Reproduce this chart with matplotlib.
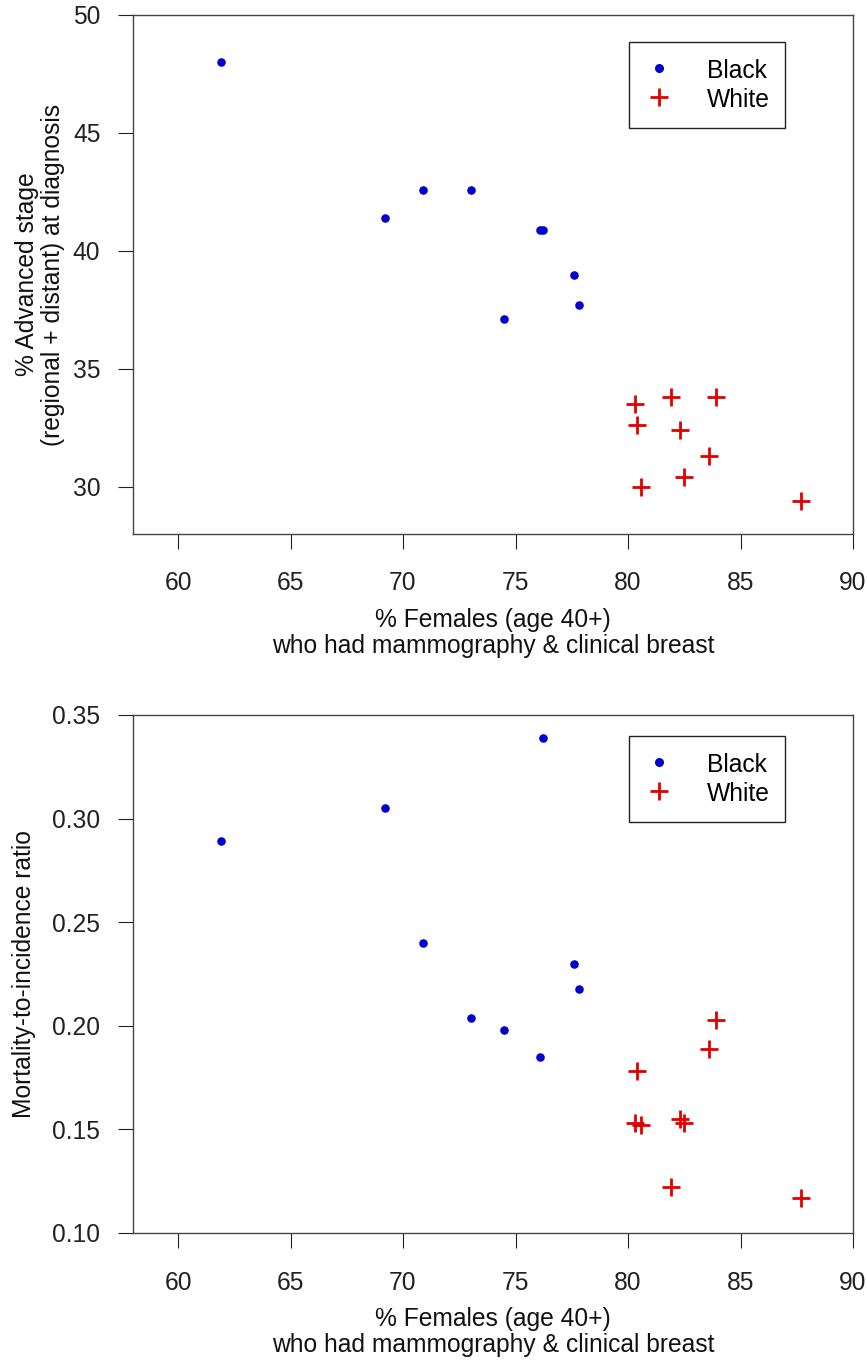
import matplotlib
matplotlib.use("Agg")
import matplotlib.pyplot as plt
from matplotlib.lines import Line2D

plt.rcParams['font.family'] = ['Liberation Sans', 'DejaVu Sans']

# ---- data ----
black_screen = [61.9, 69.2, 70.9, 73.0, 74.5, 76.1, 76.2, 77.6, 77.8]
black_stage = [48.0, 41.4, 42.6, 42.6, 37.1, 40.9, 40.9, 39.0, 37.7]
black_mir = [0.289, 0.305, 0.240, 0.204, 0.198, 0.185, 0.339, 0.230, 0.218]

white_screen = [80.3, 80.4, 80.6, 81.9, 82.3, 82.5, 83.6, 83.9, 87.7]
white_stage = [33.5, 32.6, 30.0, 33.8, 32.4, 30.4, 31.3, 33.8, 29.4]
white_mir = [0.153, 0.178, 0.152, 0.122, 0.155, 0.153, 0.189, 0.203, 0.117]

x_ticks = [60, 65, 70, 75, 80, 85, 90]
stage_ticks = [30, 35, 40, 45, 50]
mir_ticks = [0.10, 0.15, 0.20, 0.25, 0.30, 0.35]
mir_ticklabels = ["0.10", "0.15", "0.20", "0.25", "0.30", "0.35"]

series_labels = ["Black", "White"]
xlabel = "% Females (age 40+)\nwho had mammography & clinical breast"
ylabel_top = "% Advanced stage\n(regional + distant) at diagnosis"
ylabel_bot = "Mortality-to-incidence ratio"

FS = 17.7
BLUE = '#0000CC'
RED = '#E00000'
W, H = 867, 1361
fig = plt.figure(figsize=(W / 100, H / 100), dpi=100)

left = 133 / W
width = (853 - 133) / W
ax1 = fig.add_axes([left, 1 - 534 / H, width, 519 / H])
ax2 = fig.add_axes([left, 1 - 1233 / H, width, 518 / H])


def style(ax, yt, ytl, ylim, ylab, ylab_x, leg_top):
    ax.scatter(black_screen, yt[0], s=38, marker='o', color=BLUE, linewidths=0, zorder=3)
    ax.scatter(white_screen, yt[1], s=13.5 ** 2, marker='+', color=RED, linewidths=2.0, zorder=3)
    ax.set_xlim(58, 90)
    ax.set_ylim(*ylim)
    ax.set_xticks(x_ticks)
    ax.set_xticklabels([str(v) for v in x_ticks])
    ax.set_yticks(ytl[0])
    ax.set_yticklabels(ytl[1])
    ax.tick_params(axis='x', direction='out', length=11, width=0.8, pad=16, labelsize=FS, colors='#222222')
    ax.tick_params(axis='y', direction='out', length=11, width=0.8, pad=12.5, labelsize=FS, colors='#222222')
    for sp in ax.spines.values():
        sp.set_color('#444444')
        sp.set_linewidth(1.0)
    ax.text(0.5, -99 / 519, xlabel, transform=ax.transAxes, ha='center', va='center',
            fontsize=FS, linespacing=1.08, color='#111111')
    ax.text((ylab_x - 133) / 720, 0.5, ylab, transform=ax.transAxes, ha='center', va='center',
            rotation=90, fontsize=FS, linespacing=1.1, color='#111111')
    handles = [
        Line2D([], [], linestyle='none', marker='o', markersize=6.5, color=BLUE, markeredgewidth=0),
        Line2D([], [], linestyle='none', marker='+', markersize=13.5, color=RED, markeredgewidth=2.0),
    ]
    leg = ax.legend(handles, series_labels, loc='upper left', bbox_to_anchor=(0.689, leg_top),
                    borderaxespad=0, fancybox=False, framealpha=1, edgecolor='#222222',
                    fontsize=FS, borderpad=0.62, handlelength=1.22, handletextpad=1.33,
                    handleheight=1.2, labelspacing=0.14)
    leg.get_frame().set_linewidth(1.0)


style(ax1, (black_stage, white_stage), (stage_ticks, [str(v) for v in stage_ticks]),
      (28, 50), ylabel_top, 40, 1 - 27 / 519)
style(ax2, (black_mir, white_mir), (mir_ticks, mir_ticklabels),
      (0.10, 0.35), ylabel_bot, 23.5, 1 - 21 / 518)

fig.savefig("out.png", dpi=100)
